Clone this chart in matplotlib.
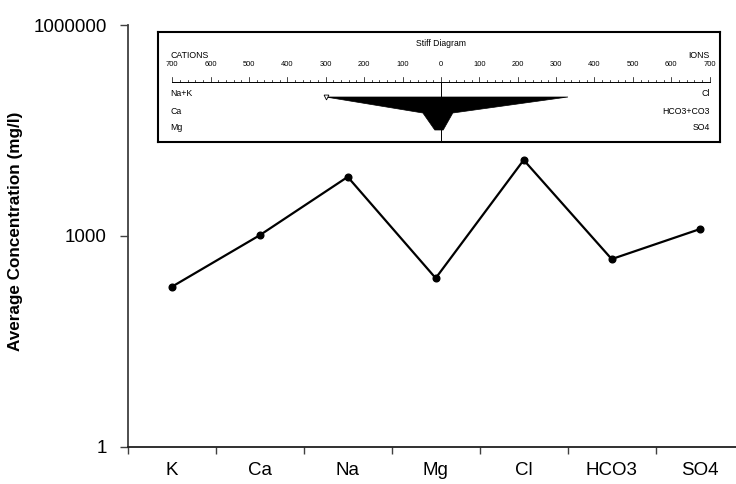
import matplotlib
matplotlib.use("Agg")
import matplotlib.pyplot as plt
import numpy as np

plt.rcParams['font.family'] = ['Liberation Sans', 'DejaVu Sans']

# ---- data ----
ions = ["K", "Ca", "Na", "Mg", "Cl", "HCO3", "SO4"]
avg_conc = [188, 1020, 6900, 250, 12000, 467, 1245]   # mg/l
y_ticks = [1, 1000, 1000000]
y_tick_labels = ["1", "1000", "1000000"]

# Stiff diagram (meq/l)
cation_names = ["Na+K", "Ca", "Mg"]
anion_names = ["Cl", "HCO3+CO3", "SO4"]
cation_vals = [300, 47, 16]
anion_vals = [331, 31, 6]
stiff_ticks = list(range(-700, 701, 100))

W, H = 736, 484
fig = plt.figure(figsize=(W / 100, H / 100), dpi=100)

# main axes (in pixel geometry)
left, right, top, bottom = 127.7, 743.7, 25.0, 446.7
ax = fig.add_axes([left / W, 1 - bottom / H, (right - left) / W, (bottom - top) / H])
x = np.arange(len(ions))
ax.plot(x, avg_conc, color="black", lw=1.6, marker="o", ms=4.8, zorder=3)
ax.set_yscale("log")
ax.set_ylim(1, 1e6)
ax.set_xlim(-0.5, len(ions) - 0.5)
ax.set_yticks(y_ticks)
ax.set_yticklabels(y_tick_labels)
ax.yaxis.set_minor_locator(matplotlib.ticker.NullLocator())
ax.set_xticks(np.arange(-0.5, len(ions), 1.0))
ax.set_xticklabels([])
ax.set_xticks(x, minor=True)
ax.set_xticklabels(ions, minor=True)
ax.tick_params(axis="x", which="major", direction="out", length=5, width=1, color="#404040")
ax.tick_params(axis="x", which="minor", length=0, pad=11, labelsize=13.5)
ax.tick_params(axis="y", which="major", direction="out", length=6, width=1, color="#404040",
               pad=9, labelsize=13.5)
for s in ("top", "right"):
    ax.spines[s].set_visible(False)
ax.spines["left"].set_color("#404040")
ax.spines["left"].set_linewidth(1.3)
ax.spines["bottom"].set_color("#202020")
ax.spines["bottom"].set_linewidth(1.3)
ax.set_ylabel("Average Concentration (mg/l)", fontsize=12.3, fontweight="bold")
ax.yaxis.set_label_coords(-(left - 23) / (right - left), 0.51)

# ---- inset Stiff diagram ----
bx0, bx1, by0, by1 = 158, 720, 32, 142
ins = fig.add_axes([bx0 / W, 1 - by1 / H, (bx1 - bx0) / W, (by1 - by0) / H])
ins.set_xlim(-737, 727)
ins.set_ylim(110, 0)
ins.set_xticks([])
ins.set_yticks([])
for s in ins.spines.values():
    s.set_linewidth(1.5)
    s.set_color("black")

fs_small = 6.3
ins.text(0, 11, "Stiff Diagram", ha="center", va="center", fontsize=6.2)
ins.text(-705, 23, "CATIONS", ha="left", va="center", fontsize=fs_small)
ins.text(700, 23, "IONS", ha="right", va="center", fontsize=fs_small)

axis_y = 50
ins.plot([-700, 700], [axis_y, axis_y], color="black", lw=0.7)
for t in range(-700, 701, 20):
    ln = 5 if t % 100 == 0 else 2.5
    ins.plot([t, t], [axis_y, axis_y - ln], color="black", lw=0.5)
for t in stiff_ticks:
    ins.text(t, 33, str(abs(t)), ha="center", va="center", fontsize=5.4)

row_y = [65, 81, 98]
ins.plot([0, 0], [axis_y, 110], color="black", lw=0.7)
poly_x = [-v for v in cation_vals] + anion_vals[::-1]
poly_y = row_y + row_y[::-1]
ins.fill(poly_x, poly_y, color="black", lw=0.5, zorder=2)
ins.plot([-cation_vals[0]], [row_y[0]], marker="v", ms=3.5, mfc="white", mec="black",
         mew=0.6, ls="none", zorder=3)
for name, yy in zip(cation_names, [61, 79, 96]):
    ins.text(-705, yy, name, ha="left", va="center", fontsize=fs_small)
for name, yy in zip(anion_names, [61, 79, 96]):
    ins.text(700, yy, name, ha="right", va="center", fontsize=fs_small)

fig.savefig("out.png", dpi=100)
